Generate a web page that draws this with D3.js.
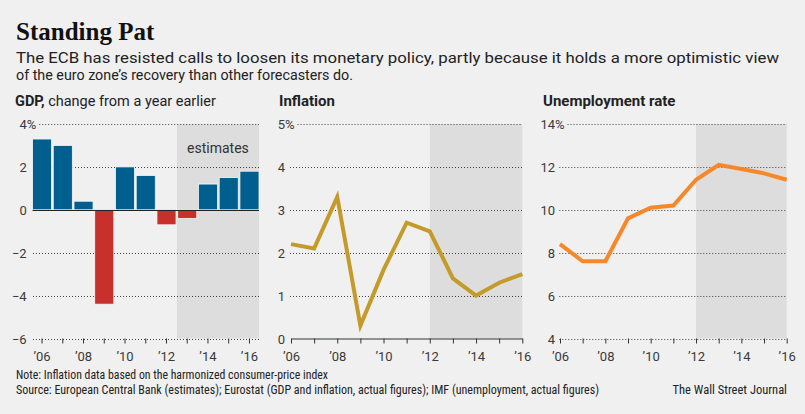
<!DOCTYPE html>
<html><head><meta charset="utf-8">
<script src="https://cdn.jsdelivr.net/npm/d3@7"></script>
<style>
body{margin:0;background:#f0f0f0;}
svg{display:block;}
text{font-family:Roboto,"Noto Sans",sans-serif;fill:#222;}
.narrow{font-family:"Liberation Sans Narrow","Roboto Condensed","Arial Narrow",Roboto,sans-serif;}
</style></head><body>
<svg id="c" width="805" height="414"></svg>
<script>
// ---- data ----
const years = [2006, 2007, 2008, 2009, 2010, 2011, 2012, 2013, 2014, 2015, 2016];
const gdpValues = [3.3, 3.0, 0.4, -4.4, 2.0, 1.6, -0.7, -0.4, 1.2, 1.5, 1.8];
const inflationValues = [2.2, 2.1, 3.3, 0.3, 1.6, 2.7, 2.5, 1.4, 1.0, 1.3, 1.5];
const unemploymentValues = [8.4, 7.6, 7.6, 9.6, 10.1, 10.2, 11.4, 12.1, 11.9, 11.7, 11.4];
const gdpTicks = [-6, -4, -2, 0, 2, 4];
const inflationTicks = [0, 1, 2, 3, 4, 5];
const unemploymentTicks = [4, 6, 8, 10, 12, 14];
const xTickLabels = ["’06", "", "’08", "", "’10", "", "’12", "", "’14", "", "’16"];
const gdpEstimateStart = 2013;
const lineEstimateStart = 2012;

const svg = d3.select("#c");
svg.append("rect").attr("width", 805).attr("height", 414).attr("fill", "#f0f0f0");

function fit(sel, w) {
  const n = sel.node();
  const m = n.getComputedTextLength();
  if (Math.abs(m - w) / w > 0.02) sel.attr("textLength", w).attr("lengthAdjust", "spacingAndGlyphs");
}

// ---- headings ----
svg.append("text").attr("x", 16).attr("y", 40)
  .style("font-family", "'Liberation Serif','DejaVu Serif',serif")
  .style("font-weight", "bold").style("font-size", "25px").style("fill", "#111")
  .text("Standing Pat");
const s1 = svg.append("text").attr("x", 16).attr("y", 63).style("font-size", "15px").style("fill", "#222")
  .text("The ECB has resisted calls to loosen its monetary policy, partly because it holds a more optimistic view");
fit(s1, 763);
const s2 = svg.append("text").attr("x", 16).attr("y", 80).style("font-size", "15px").style("fill", "#222")
  .text("of the euro zone’s recovery than other forecasters do.");
fit(s2, 337);

const t1 = svg.append("text").attr("x", 15).attr("y", 106).style("font-size", "14.5px");
t1.append("tspan").style("font-weight", "bold").text("GDP,");
t1.append("tspan").text(" change from a year earlier");
svg.append("text").attr("x", 279).attr("y", 106).style("font-size", "15px").style("font-weight", "bold").text("Inflation");
svg.append("text").attr("x", 543).attr("y", 106).style("font-size", "15px").style("font-weight", "bold").text("Unemployment rate");

const Y0 = 338.5, Y1 = 124;
const fmt = d3.format("d");

function yGrid(ticks, y, numEnd, gridLeft, gridRight, skipBottom) {
  ticks.forEach((t, i) => {
    const isTop = i === ticks.length - 1;
    const yy = Math.round(y(t)) + 0.5;
    svg.append("text").attr("x", numEnd).attr("y", yy).attr("dy", "0.35em")
      .attr("text-anchor", "end").style("font-size", "13px").style("fill", "#3a3a3a").text(fmt(t));
    let gl = gridLeft;
    if (isTop) {
      const p = svg.append("text").attr("x", numEnd).attr("y", yy).attr("dy", "0.35em")
        .style("font-size", "13px").style("fill", "#3a3a3a").text("%");
      gl = numEnd + p.node().getComputedTextLength() + 3;
    }
    if (!(i === 0 && skipBottom)) {
      svg.append("line").attr("x1", gl).attr("x2", gridRight).attr("y1", yy).attr("y2", yy)
        .attr("stroke", "#444").attr("stroke-width", 1).attr("stroke-dasharray", "1,2");
    }
  });
}

function xAxis(scale, keepDomain) {
  const ax = d3.axisBottom(scale).tickSize(5).tickSizeOuter(0).tickPadding(8)
    .tickFormat((d, i) => xTickLabels[years.indexOf(d)]);
  const g = svg.append("g").attr("transform", `translate(0,${Y0})`).call(ax);
  g.selectAll(".tick line").attr("stroke", "#333");
  g.selectAll(".tick text").style("font-size", "13px").style("fill", "#3a3a3a")
    .style("font-family", "Roboto,'Noto Sans',sans-serif");
  if (keepDomain) g.select(".domain").attr("stroke", "#333");
  else g.select(".domain").remove();
}

// ---- GDP ----
{
  const x = d3.scaleBand().domain(years).range([32.5, 259]).paddingInner(0.08).paddingOuter(0);
  const y = d3.scaleLinear().domain([-6, 4]).range([Y0, Y1]);
  const sx = x(gdpEstimateStart) - x.step() * x.paddingInner() / 2;
  svg.append("rect").attr("x", sx).attr("y", y(4)).attr("width", 259 - sx).attr("height", y(-6) - y(4)).attr("fill", "#dddddd");
  svg.append("text").attr("x", (sx + 259) / 2).attr("y", 153).attr("text-anchor", "middle")
    .style("font-size", "14px").style("fill", "#333").text("estimates");
  yGrid(gdpTicks, y, 26.7, 33, 259, false);
  svg.append("g").selectAll("rect").data(years).join("rect")
    .attr("x", d => x(d)).attr("width", x.bandwidth())
    .attr("y", (d, i) => y(Math.max(0, gdpValues[i])))
    .attr("height", (d, i) => Math.abs(y(gdpValues[i]) - y(0)))
    .attr("fill", (d, i) => gdpValues[i] < 0 ? "#c8302b" : "#005f8e")
    .attr("stroke", "#f8f8f8").attr("stroke-width", 0.8);
  const zy = Math.round(y(0)) + 0.5;
  svg.append("line").attr("x1", 32.5).attr("x2", 259).attr("y1", zy).attr("y2", zy).attr("stroke", "#222").attr("stroke-width", 1.2);
  xAxis(x, false);
}

// ---- Inflation ----
{
  const x = d3.scalePoint().domain(years).range([291, 522.3]);
  const y = d3.scaleLinear().domain([0, 5]).range([Y0, Y1]);
  svg.append("rect").attr("x", x(lineEstimateStart)).attr("y", y(5)).attr("width", x(2016) - x(lineEstimateStart)).attr("height", y(0) - y(5)).attr("fill", "#dddddd");
  yGrid(inflationTicks, y, 285, 290, 522.3, true);
  xAxis(x, true);
  svg.append("path").datum(years).attr("fill", "none").attr("stroke", "#c49b2a").attr("stroke-width", 4)
    .attr("d", d3.line().x(d => x(d)).y((d, i) => y(inflationValues[i])));
}

// ---- Unemployment ----
{
  const x = d3.scalePoint().domain(years).range([560, 786.7]);
  const y = d3.scaleLinear().domain([4, 14]).range([Y0, Y1]);
  svg.append("rect").attr("x", x(lineEstimateStart)).attr("y", y(14)).attr("width", x(2016) - x(lineEstimateStart)).attr("height", y(4) - y(14)).attr("fill", "#dddddd");
  yGrid(unemploymentTicks, y, 555, 559.3, 786.7, false);
  xAxis(x, false);
  svg.append("path").datum(years).attr("fill", "none").attr("stroke", "#f6882a").attr("stroke-width", 4)
    .attr("d", d3.line().x(d => x(d)).y((d, i) => y(unemploymentValues[i])));
}

// ---- footer ----
const n1 = svg.append("text").attr("class", "narrow").attr("x", 16).attr("y", 379).style("font-size", "12.5px").style("fill", "#222")
  .text("Note: Inflation data based on the harmonized consumer-price index");
fit(n1, 312);
const n2 = svg.append("text").attr("class", "narrow").attr("x", 16).attr("y", 394).style("font-size", "12.5px").style("fill", "#222")
  .text("Source: European Central Bank (estimates); Eurostat (GDP and inflation, actual figures); IMF (unemployment, actual figures)");
fit(n2, 583);
const n3 = svg.append("text").attr("class", "narrow").attr("x", 787).attr("y", 394).attr("text-anchor", "end").style("font-size", "12.5px").style("fill", "#222")
  .text("The Wall Street Journal");
</script>
</body></html>
